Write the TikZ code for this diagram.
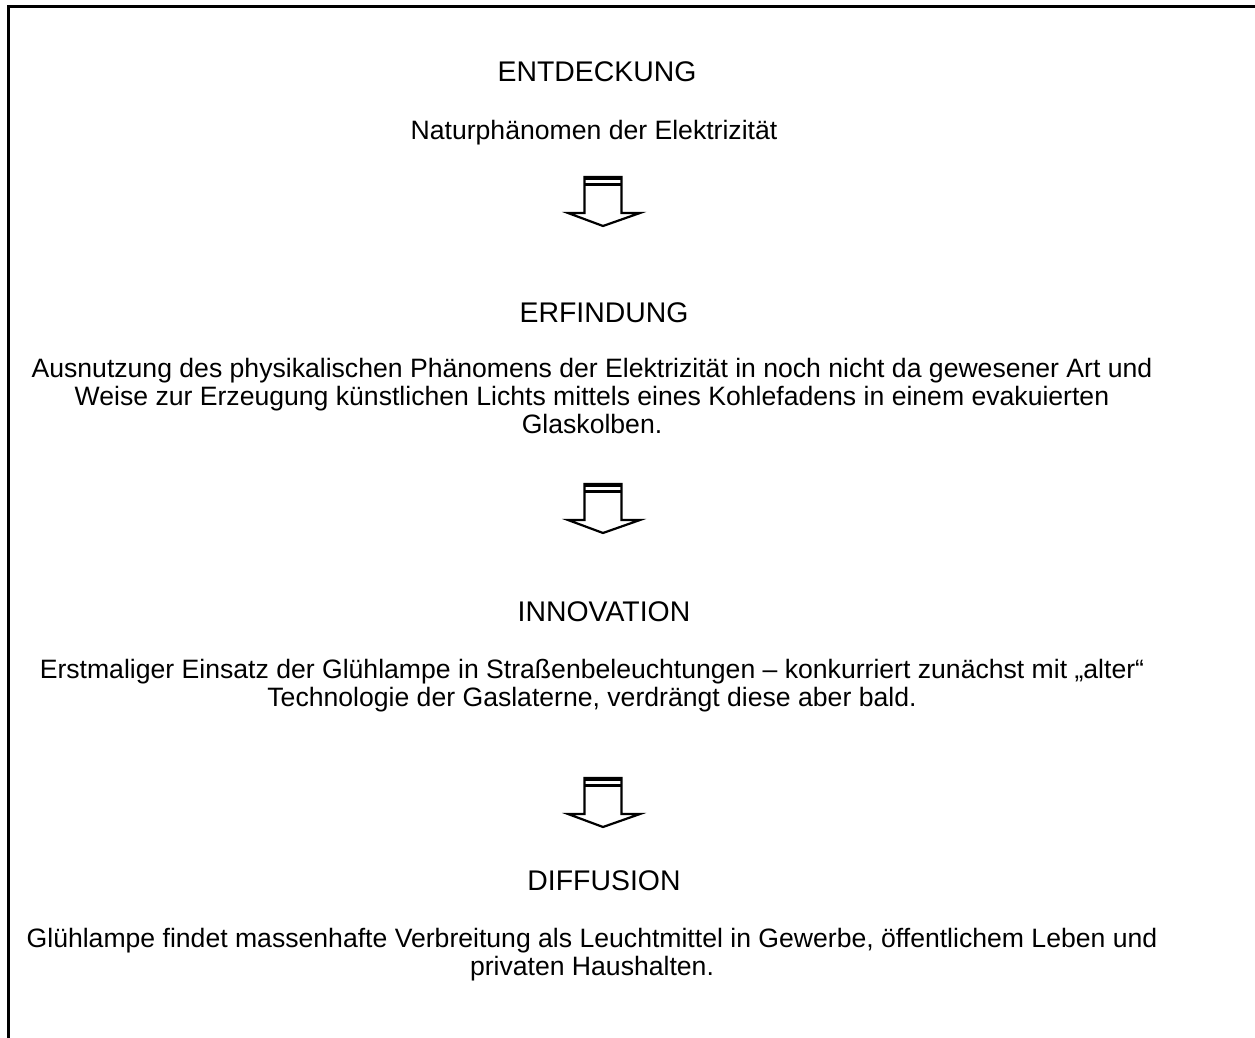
\documentclass[tikz,border=0pt]{standalone}
\usepackage{fontspec}
\setmainfont{Liberation Sans}
\usetikzlibrary{positioning}

\begin{document}
\begin{tikzpicture}[
  x=0.5pt, y=-0.5pt,
  phase/.style={font=\fontsize{14.2}{17}\selectfont, inner sep=0pt, anchor=base},
  desc/.style={font=\fontsize{13.3}{14}\selectfont, align=center, inner sep=0pt, anchor=base},
  frame/.style={line width=1.5pt},
  blockarr/.pic={
    \draw[line width=1.1pt, fill=white] (-18.5,0) -- (-18.5,36) -- (-35,36) -- (0,49) -- (37,36) -- (18.5,36) -- (18.5,0) -- cycle;
    \draw[line width=1.6pt] (-19,1.5) -- (19,1.5);
    \draw[line width=1.6pt] (-18.5,7.5) -- (18.5,7.5);
  }
]
\useasboundingbox (0,0) rectangle (1255,1038);

% frame (open at right and bottom)
\coordinate (topright) at (1255,6.5);
\coordinate (corner) at (8.5,6.5);
\coordinate (bottomleft) at (8.5,1038);
\draw[frame] (topright) -- (corner) -- (bottomleft);

% phases (desc nodes sit on the baseline of their last line)
\node[phase] (entdeckung) at (597,82) {ENTDECKUNG};
\node[desc] (natur) at (594,140) {Naturphänomen der Elektrizität};
\pic at (603,177) {blockarr};

\node[phase] (erfindung) at (604,322) {ERFINDUNG};
\node[desc] (ausnutzung) at (592,433) {Ausnutzung des physikalischen Phänomens der Elektrizität in noch nicht da gewesener Art und\\Weise zur Erzeugung künstlichen Lichts mittels eines Kohlefadens in einem evakuierten\\Glaskolben.};
\pic at (603,484) {blockarr};

\node[phase] (innovation) at (604,621) {INNOVATION};
\node[desc] (einsatz) at (592,706) {Erstmaliger Einsatz der Glühlampe in Straßenbeleuchtungen – konkurriert zunächst mit „alter“\\Technologie der Gaslaterne, verdrängt diese aber bald.};
\pic at (603,778) {blockarr};

\node[phase] (diffusion) at (604,890) {DIFFUSION};
\node[desc] (verbreitung) at (592,975) {Glühlampe findet massenhafte Verbreitung als Leuchtmittel in Gewerbe, öffentlichem Leben und\\privaten Haushalten.};
\end{tikzpicture}
\end{document}
